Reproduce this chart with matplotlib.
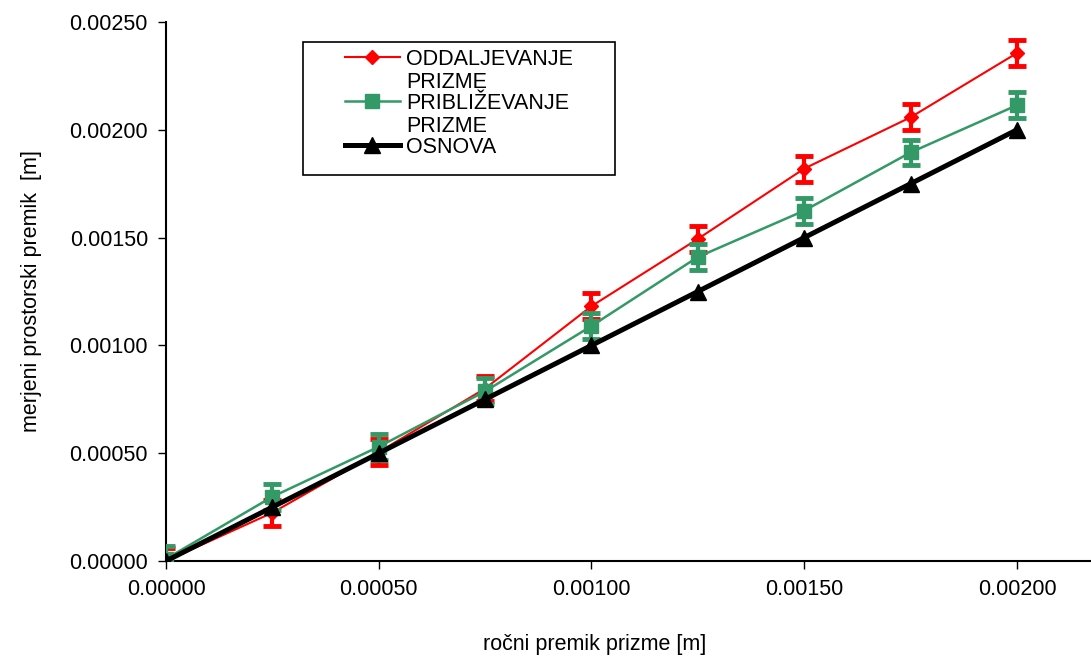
import matplotlib
matplotlib.use("Agg")
import matplotlib.pyplot as plt
from matplotlib.lines import Line2D
from matplotlib.patches import Rectangle
from matplotlib.ticker import FormatStrFormatter

plt.rcParams['font.family'] = ['Liberation Sans', 'DejaVu Sans']

# podatki
x = [0.0, 0.00025, 0.0005, 0.00075, 0.001, 0.00125, 0.0015, 0.00175, 0.002]
oddaljevanje = [0.0, 0.000224, 0.000505, 0.000800, 0.001182, 0.001494, 0.001820, 0.002058, 0.002356]
priblizevanje = [0.00001, 0.000298, 0.000530, 0.000787, 0.001090, 0.001410, 0.001625, 0.001895, 0.002114]
osnova = [0.0, 0.00025, 0.0005, 0.00075, 0.001, 0.00125, 0.0015, 0.00175, 0.002]
err_odd = [0.00006] * 9
err_pri = [0.00006] * 9

labels = ['ODDALJEVANJE', 'PRIBLIŽEVANJE', 'OSNOVA']

fs = 15.5
fig = plt.figure(figsize=(10.91, 6.57), dpi=100)
ax = fig.add_axes([166 / 1091, 1 - 561 / 657, (1091 - 166) / 1091, (561 - 22) / 657])

red = '#ff0000'
green = '#339966'

ax.errorbar(x, oddaljevanje, yerr=err_odd, color=red, lw=1.5, marker='D', ms=6.8,
            elinewidth=3, capsize=6.5, capthick=3.5, zorder=2)
ax.errorbar(x, priblizevanje, yerr=err_pri, color=green, lw=1.8, marker='s', ms=9.5,
            elinewidth=3, capsize=6.5, capthick=3.5, zorder=3)
ax.plot(x, osnova, color='black', lw=3.6, marker='^', ms=11, zorder=4)

ax.set_xlim(0, 0.002174)
ax.set_ylim(0, 0.0025)
ax.set_xticks([0, 0.0005, 0.001, 0.0015, 0.002])
ax.set_yticks([0, 0.0005, 0.001, 0.0015, 0.002, 0.0025])
ax.xaxis.set_major_formatter(FormatStrFormatter('%.5f'))
ax.yaxis.set_major_formatter(FormatStrFormatter('%.5f'))
ax.tick_params(labelsize=fs, length=6, width=1, direction='out', pad=7)
ax.spines['top'].set_visible(False)
ax.spines['right'].set_visible(False)
ax.spines['left'].set_linewidth(1.5)
ax.spines['bottom'].set_linewidth(1.5)

ax.set_xlabel('ročni premik prizme [m]', fontsize=fs)
ax.set_ylabel('merjeni prostorski premik  [m]', fontsize=fs)
ax.xaxis.set_label_coords((595 - 166) / 925, -(634 - 561) / 539)
ax.yaxis.set_label_coords(-124 / 925, 0.5)

# legenda
handles = [
    Line2D([], [], color=red, lw=1.5, marker='D', ms=7.5),
    Line2D([], [], color=green, lw=1.8, marker='s', ms=10),
    Line2D([], [], color='black', lw=3.6, marker='^', ms=11),
]
leg = ax.legend(handles, labels, loc='upper left',
                bbox_to_anchor=((345 - 166) / 925, (561 - 49) / 539),
                frameon=False, fontsize=fs, handlelength=2.55, handletextpad=0.28,
                labelspacing=1.06, borderpad=0, borderaxespad=0)
fig.canvas.draw()
for t in leg.get_texts()[:2]:
    ax.annotate('PRIZME', xy=(0, 0), xycoords=t, xytext=(0, -23),
                textcoords='offset pixels', fontsize=fs, va='bottom', ha='left')
ax.add_patch(Rectangle(((303 - 166) / 925, (561 - 175) / 539), (615 - 303) / 925, (175 - 42) / 539,
                       transform=ax.transAxes, fill=False, edgecolor='black', lw=1.2,
                       clip_on=False, zorder=5))

fig.savefig('out.png', dpi=100)
